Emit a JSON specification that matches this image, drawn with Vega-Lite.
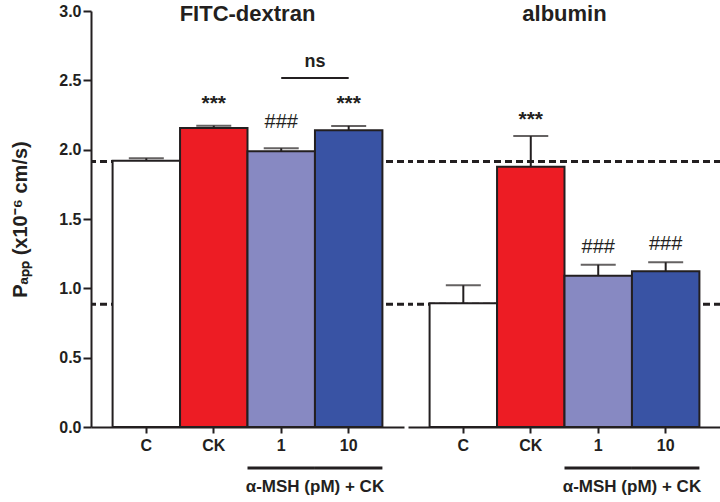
{
  "$schema": "https://vega.github.io/schema/vega-lite/v6.json",
  "background": "white",
  "padding": {"left": 10, "top": 3, "right": 0, "bottom": 0},
  "spacing": 0,
  "config": {
    "view": {"stroke": null},
    "font": "Liberation Sans",
    "axis": {"domainColor": "#231F20", "domainWidth": 2, "tickColor": "#231F20", "tickWidth": 2, "labelColor": "#231F20", "labelFontWeight": "bold", "labelFont": "Liberation Sans", "titleColor": "#231F20", "grid": false},
    "axisX": {"labelAngle": 0, "labelFontSize": 16, "tickSize": 6, "labelPadding": 4}
  },
  "datasets": {
    "bars": [
      {"assay": "FITC-dextran", "treatment": "C", "mean": 1.92, "upper": 1.938, "sig": ""},
      {"assay": "FITC-dextran", "treatment": "CK", "mean": 2.156, "upper": 2.173, "sig": "***"},
      {"assay": "FITC-dextran", "treatment": "1", "mean": 1.988, "upper": 2.01, "sig": "###"},
      {"assay": "FITC-dextran", "treatment": "10", "mean": 2.14, "upper": 2.171, "sig": "***"},
      {"assay": "albumin", "treatment": "C", "mean": 0.892, "upper": 1.022, "sig": ""},
      {"assay": "albumin", "treatment": "CK", "mean": 1.877, "upper": 2.098, "sig": "***"},
      {"assay": "albumin", "treatment": "1", "mean": 1.091, "upper": 1.17, "sig": "###"},
      {"assay": "albumin", "treatment": "10", "mean": 1.123, "upper": 1.188, "sig": "###"}
    ],
    "ref": [{"level": 1.915}, {"level": 0.885}],
    "ns": [{"assay": "FITC-dextran", "from": "1", "to": "10", "label": "ns"}],
    "groups": [{"assay": "FITC-dextran"}, {"assay": "albumin"}],
    "brackets": [
      {"assay": "FITC-dextran", "treatment": "1"},
      {"assay": "FITC-dextran", "treatment": "10"},
      {"assay": "albumin", "treatment": "1"},
      {"assay": "albumin", "treatment": "10"}
    ]
  },
  "hconcat": [
    {
      "width": 313,
      "height": 416,
      "layer": [
        {
          "data": {"name": "ref"},
          "mark": {"type": "rule", "strokeDash": [7, 4], "strokeWidth": 3, "color": "#231F20"},
          "encoding": {
            "y": {"field": "level", "type": "quantitative", "scale": {"domain": [0, 3], "nice": false}, "title": "Pₐₚₚ (x10⁻⁶ cm/s)",
              "axis": {"values": [0, 0.25, 0.5, 0.75, 1, 1.25, 1.5, 1.75, 2, 2.25, 2.5, 2.75, 3], "labelExpr": "datum.value % 0.5 === 0 ? format(datum.value, '.1f') : ''", "tickSize": 8, "tickDash": {"condition": {"test": "datum.value % 0.5 !== 0", "value": [4, 20]}, "value": [8, 0]}, "labelFontSize": 16, "labelPadding": 2, "titleFontSize": 20, "titleFontWeight": "bold", "titlePadding": 28}}
          }
        },
        {
          "data": {"name": "bars"},
          "transform": [{"filter": "datum.assay === 'FITC-dextran'"}],
          "mark": {"type": "bar", "stroke": "#231F20", "strokeWidth": 2},
          "encoding": {
            "x": {"field": "treatment", "type": "nominal", "title": null, "scale": {"type": "band", "domain": ["C", "CK", "1", "10"], "paddingInner": 0, "paddingOuter": 0.32}},
            "y": {"field": "mean", "type": "quantitative", "scale": {"domain": [0, 3], "nice": false}},
            "color": {"field": "treatment", "type": "nominal", "scale": {"domain": ["C", "CK", "1", "10"], "range": ["#FFFFFF", "#ED1C24", "#8789C2", "#3953A4"]}, "legend": null}
          }
        },
        {
          "data": {"name": "bars"},
          "transform": [{"filter": "datum.assay === 'FITC-dextran'"}],
          "mark": {"type": "rule", "strokeWidth": 2, "color": "#231F20"},
          "encoding": {
            "x": {"field": "treatment", "type": "nominal", "title": null, "scale": {"type": "band", "domain": ["C", "CK", "1", "10"], "paddingInner": 0, "paddingOuter": 0.32}},
            "y": {"field": "mean", "type": "quantitative", "scale": {"domain": [0, 3], "nice": false}},
            "y2": {"field": "upper"}
          }
        },
        {
          "data": {"name": "bars"},
          "transform": [{"filter": "datum.assay === 'FITC-dextran'"}],
          "mark": {"type": "tick", "size": 35, "thickness": 2, "color": "#231F20", "orient": "horizontal"},
          "encoding": {
            "x": {"field": "treatment", "type": "nominal", "title": null, "scale": {"type": "band", "domain": ["C", "CK", "1", "10"], "paddingInner": 0, "paddingOuter": 0.32}},
            "y": {"field": "upper", "type": "quantitative", "scale": {"domain": [0, 3], "nice": false}}
          }
        },
        {
          "data": {"name": "bars"},
          "transform": [{"filter": "datum.assay === 'FITC-dextran' && datum.sig === '***'"}],
          "mark": {"type": "text", "fontSize": 21, "fontWeight": "bold", "baseline": "alphabetic", "dy": -16, "color": "#231F20"},
          "encoding": {
            "x": {"field": "treatment", "type": "nominal", "title": null, "scale": {"type": "band", "domain": ["C", "CK", "1", "10"], "paddingInner": 0, "paddingOuter": 0.32}},
            "y": {"field": "upper", "type": "quantitative", "scale": {"domain": [0, 3], "nice": false}},
            "text": {"field": "sig"}
          }
        },
        {
          "data": {"name": "bars"},
          "transform": [{"filter": "datum.assay === 'FITC-dextran' && datum.sig === '###'"}],
          "mark": {"type": "text", "fontSize": 20, "fontWeight": "normal", "baseline": "alphabetic", "dy": -20, "color": "#231F20"},
          "encoding": {
            "x": {"field": "treatment", "type": "nominal", "title": null, "scale": {"type": "band", "domain": ["C", "CK", "1", "10"], "paddingInner": 0, "paddingOuter": 0.32}},
            "y": {"field": "upper", "type": "quantitative", "scale": {"domain": [0, 3], "nice": false}},
            "text": {"field": "sig"}
          }
        },
        {
          "data": {"name": "brackets"},
          "transform": [{"filter": "datum.assay === 'FITC-dextran'"}],
          "mark": {"type": "bar", "color": "#231F20"},
          "encoding": {
            "x": {"field": "treatment", "type": "nominal", "title": null, "scale": {"type": "band", "domain": ["C", "CK", "1", "10"], "paddingInner": 0, "paddingOuter": 0.32}},
            "y": {"datum": -0.285, "type": "quantitative", "scale": {"domain": [0, 3], "nice": false}},
            "y2": {"datum": -0.307}
          }
        },
        {
          "data": {"name": "brackets"},
          "transform": [{"filter": "datum.assay === 'FITC-dextran' && datum.treatment === '1'"}],
          "mark": {"type": "text", "text": "α-MSH (pM) + CK", "fontSize": 17, "fontWeight": "bold", "baseline": "middle", "color": "#231F20"},
          "encoding": {
            "x": {"field": "treatment", "type": "nominal", "title": null, "bandPosition": 1, "scale": {"type": "band", "domain": ["C", "CK", "1", "10"], "paddingInner": 0, "paddingOuter": 0.32}},
            "y": {"datum": -0.435, "type": "quantitative", "scale": {"domain": [0, 3], "nice": false}}
          }
        },
        {
          "data": {"name": "groups"},
          "transform": [{"filter": "datum.assay === 'FITC-dextran'"}],
          "mark": {"type": "text", "fontSize": 22, "fontWeight": "bold", "baseline": "middle", "dy": 3, "color": "#231F20"},
          "encoding": {
            "y": {"datum": 3, "type": "quantitative", "scale": {"domain": [0, 3], "nice": false}},
            "text": {"field": "assay"}
          }
        },
        {
          "data": {"name": "ns"},
          "mark": {"type": "rule", "strokeWidth": 2, "color": "#231F20"},
          "encoding": {
            "x": {"field": "from", "type": "nominal", "title": null, "scale": {"type": "band", "domain": ["C", "CK", "1", "10"], "paddingInner": 0, "paddingOuter": 0.32}},
            "x2": {"field": "to"},
            "y": {"datum": 2.517, "type": "quantitative", "scale": {"domain": [0, 3], "nice": false}}
          }
        },
        {
          "data": {"name": "ns"},
          "mark": {"type": "text", "fontSize": 18, "fontWeight": "bold", "baseline": "middle", "color": "#231F20"},
          "encoding": {
            "x": {"field": "from", "type": "nominal", "title": null, "bandPosition": 1, "scale": {"type": "band", "domain": ["C", "CK", "1", "10"], "paddingInner": 0, "paddingOuter": 0.32}},
            "y": {"datum": 2.63, "type": "quantitative", "scale": {"domain": [0, 3], "nice": false}},
            "text": {"field": "label"}
          }
        }
      ]
    },
    {
      "width": 313,
      "height": 416,
      "layer": [
        {
          "data": {"name": "ref"},
          "mark": {"type": "rule", "strokeDash": [7, 4], "strokeWidth": 3, "color": "#231F20"},
          "encoding": {
            "y": {"field": "level", "type": "quantitative", "scale": {"domain": [0, 3], "nice": false}, "axis": null}
          }
        },
        {
          "data": {"name": "bars"},
          "transform": [{"filter": "datum.assay === 'albumin'"}],
          "mark": {"type": "bar", "stroke": "#231F20", "strokeWidth": 2},
          "encoding": {
            "x": {"field": "treatment", "type": "nominal", "title": null, "scale": {"type": "band", "domain": ["C", "CK", "1", "10"], "paddingInner": 0, "paddingOuter": 0.32}},
            "y": {"field": "mean", "type": "quantitative", "scale": {"domain": [0, 3], "nice": false}, "axis": null},
            "color": {"field": "treatment", "type": "nominal", "scale": {"domain": ["C", "CK", "1", "10"], "range": ["#FFFFFF", "#ED1C24", "#8789C2", "#3953A4"]}, "legend": null}
          }
        },
        {
          "data": {"name": "bars"},
          "transform": [{"filter": "datum.assay === 'albumin'"}],
          "mark": {"type": "rule", "strokeWidth": 2, "color": "#231F20"},
          "encoding": {
            "x": {"field": "treatment", "type": "nominal", "title": null, "scale": {"type": "band", "domain": ["C", "CK", "1", "10"], "paddingInner": 0, "paddingOuter": 0.32}},
            "y": {"field": "mean", "type": "quantitative", "scale": {"domain": [0, 3], "nice": false}, "axis": null},
            "y2": {"field": "upper"}
          }
        },
        {
          "data": {"name": "bars"},
          "transform": [{"filter": "datum.assay === 'albumin'"}],
          "mark": {"type": "tick", "size": 35, "thickness": 2, "color": "#231F20", "orient": "horizontal"},
          "encoding": {
            "x": {"field": "treatment", "type": "nominal", "title": null, "scale": {"type": "band", "domain": ["C", "CK", "1", "10"], "paddingInner": 0, "paddingOuter": 0.32}},
            "y": {"field": "upper", "type": "quantitative", "scale": {"domain": [0, 3], "nice": false}, "axis": null}
          }
        },
        {
          "data": {"name": "bars"},
          "transform": [{"filter": "datum.assay === 'albumin' && datum.sig === '***'"}],
          "mark": {"type": "text", "fontSize": 21, "fontWeight": "bold", "baseline": "alphabetic", "dy": -10, "color": "#231F20"},
          "encoding": {
            "x": {"field": "treatment", "type": "nominal", "title": null, "scale": {"type": "band", "domain": ["C", "CK", "1", "10"], "paddingInner": 0, "paddingOuter": 0.32}},
            "y": {"field": "upper", "type": "quantitative", "scale": {"domain": [0, 3], "nice": false}, "axis": null},
            "text": {"field": "sig"}
          }
        },
        {
          "data": {"name": "bars"},
          "transform": [{"filter": "datum.assay === 'albumin' && datum.sig === '###'"}],
          "mark": {"type": "text", "fontSize": 20, "fontWeight": "normal", "baseline": "alphabetic", "dy": -12, "color": "#231F20"},
          "encoding": {
            "x": {"field": "treatment", "type": "nominal", "title": null, "scale": {"type": "band", "domain": ["C", "CK", "1", "10"], "paddingInner": 0, "paddingOuter": 0.32}},
            "y": {"field": "upper", "type": "quantitative", "scale": {"domain": [0, 3], "nice": false}, "axis": null},
            "text": {"field": "sig"}
          }
        },
        {
          "data": {"name": "brackets"},
          "transform": [{"filter": "datum.assay === 'albumin'"}],
          "mark": {"type": "bar", "color": "#231F20"},
          "encoding": {
            "x": {"field": "treatment", "type": "nominal", "title": null, "scale": {"type": "band", "domain": ["C", "CK", "1", "10"], "paddingInner": 0, "paddingOuter": 0.32}},
            "y": {"datum": -0.285, "type": "quantitative", "scale": {"domain": [0, 3], "nice": false}, "axis": null},
            "y2": {"datum": -0.307}
          }
        },
        {
          "data": {"name": "brackets"},
          "transform": [{"filter": "datum.assay === 'albumin' && datum.treatment === '1'"}],
          "mark": {"type": "text", "text": "α-MSH (pM) + CK", "fontSize": 17, "fontWeight": "bold", "baseline": "middle", "color": "#231F20"},
          "encoding": {
            "x": {"field": "treatment", "type": "nominal", "title": null, "bandPosition": 1, "scale": {"type": "band", "domain": ["C", "CK", "1", "10"], "paddingInner": 0, "paddingOuter": 0.32}},
            "y": {"datum": -0.435, "type": "quantitative", "scale": {"domain": [0, 3], "nice": false}, "axis": null}
          }
        },
        {
          "data": {"name": "groups"},
          "transform": [{"filter": "datum.assay === 'albumin'"}],
          "mark": {"type": "text", "fontSize": 22, "fontWeight": "bold", "baseline": "middle", "dy": 3, "color": "#231F20"},
          "encoding": {
            "y": {"datum": 3, "type": "quantitative", "scale": {"domain": [0, 3], "nice": false}, "axis": null},
            "text": {"field": "assay"}
          }
        }
      ]
    }
  ]
}
